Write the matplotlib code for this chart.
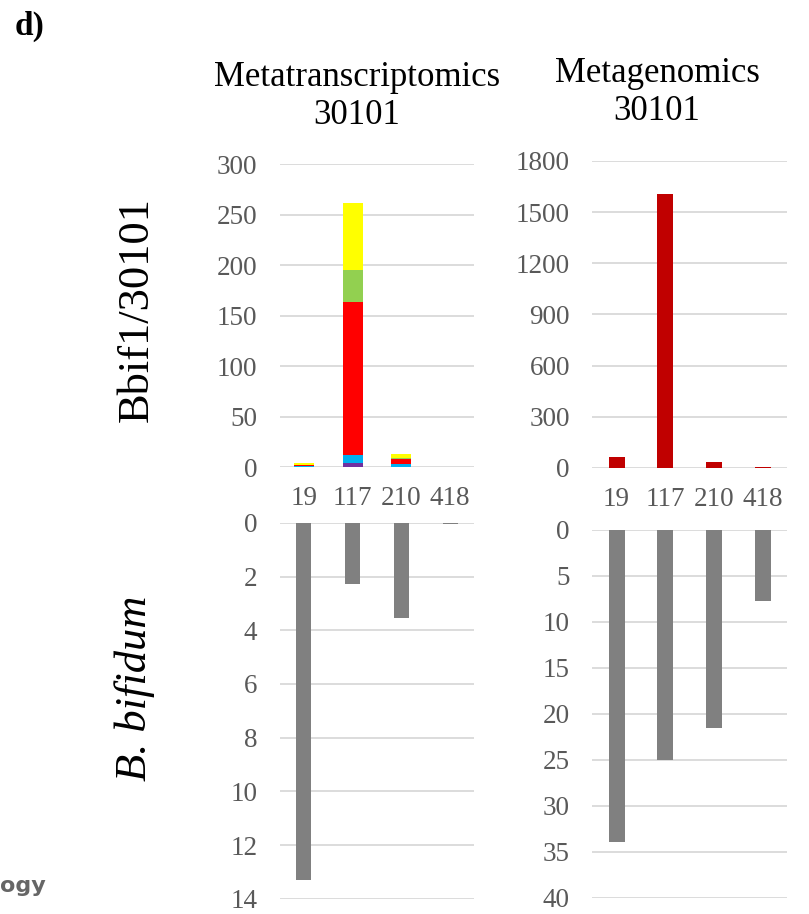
import matplotlib.pyplot as plt
import numpy as np

plt.rcParams['font.family'] = ['Liberation Serif', 'DejaVu Serif']

# samples on the x axis
samples = ['19', '117', '210', '418']

# metatranscriptomics, stacked (bottom -> top)
mt_purple = [0.0, 4.0, 0.0, 0.0]
mt_blue = [1.0, 7.5, 3.0, 0.0]
mt_red = [1.5, 151.5, 4.5, 0.0]
mt_green = [0.0, 32.0, 1.5, 0.0]
mt_yellow = [2.0, 66.0, 3.5, 0.0]

# metagenomics
mg_values = [64, 1605, 33, 8]

# B. bifidum abundance (drawn downwards)
bb_mt = [13.28, 2.29, 3.55, 0.03]
bb_mg = [33.9, 25.0, 21.5, 7.7]

grid_c = '#D9D9D9'
tick_c = '#595959'
x = np.arange(len(samples))

fig = plt.figure(figsize=(8.09, 9.14), dpi=100)

def style(ax):
    for s in ax.spines.values():
        s.set_visible(False)
    ax.yaxis.grid(True, color=grid_c, linewidth=1.3)
    ax.set_axisbelow(True)
    ax.tick_params(axis='both', length=0, labelsize=19.5, colors=tick_c)
    ax.tick_params(axis='y', pad=16)
    ax.set_xlim(-0.5, 3.5)

# top left: stacked metatranscriptomics
ax1 = fig.add_axes([0.3455, 0.489, 0.241, 0.3315])
style(ax1)
layers = [(mt_purple, '#7030A0'), (mt_blue, '#00B0F0'), (mt_red, '#FF0000'),
          (mt_green, '#92D050'), (mt_yellow, '#FFFF00')]
bottom = np.zeros(len(samples))
for vals, col in layers:
    ax1.bar(x, vals, 0.41, bottom=bottom, color=col, zorder=3)
    bottom += np.array(vals)
ax1.set_ylim(0, 300)
ax1.set_yticks(range(0, 301, 50))
ax1.set_xticks(x)
ax1.set_xticklabels(samples)
ax1.tick_params(axis='x', pad=14)

# top right: metagenomics
ax2 = fig.add_axes([0.732, 0.488, 0.241, 0.3359])
style(ax2)
ax2.bar(x, mg_values, 0.33, color='#C00000', zorder=3)
ax2.set_ylim(0, 1800)
ax2.set_yticks(range(0, 1801, 300))
ax2.set_xticks(x)
ax2.set_xticklabels(samples)
ax2.tick_params(axis='x', pad=14)

# bottom left
ax3 = fig.add_axes([0.3455, 0.0165, 0.241, 0.4115])
style(ax3)
ax3.bar(x, bb_mt, 0.31, color='#808080', zorder=3)
ax3.set_ylim(14, 0)
ax3.set_yticks(range(0, 15, 2))
ax3.set_xticks([])

# bottom right
ax4 = fig.add_axes([0.732, 0.0178, 0.241, 0.4025])
style(ax4)
ax4.bar(x, bb_mg, 0.33, color='#808080', zorder=3)
ax4.set_ylim(40, 0)
ax4.set_yticks(range(0, 41, 5))
ax4.set_xticks([])

# titles and row labels
fig.text(357 / 809, 1 - 78 / 914, 'Metatranscriptomics', fontsize=25, ha='center', va='center')
fig.text(357 / 809, 1 - 115 / 914, '30101', fontsize=25, ha='center', va='center')
fig.text(657 / 809, 1 - 73 / 914, 'Metagenomics', fontsize=25, ha='center', va='center')
fig.text(657 / 809, 1 - 111 / 914, '30101', fontsize=25, ha='center', va='center')
fig.text(137 / 809, 1 - 310 / 914, 'Bbif1/30101', fontsize=32, rotation=90,
         ha='center', va='center')
fig.text(135 / 809, 1 - 688 / 914, 'B. bifidum', fontsize=32, style='italic',
         rotation=90, ha='center', va='center')

fig.text(0.018, 0.971, 'd)', fontsize=24, fontweight='bold', va='center')
fig.text(0.0, 0.031, 'ogy', fontsize=16, fontweight='bold', color='#666666',
         family=['DejaVu Sans'], va='center')

fig.savefig('out.png', dpi=100)
